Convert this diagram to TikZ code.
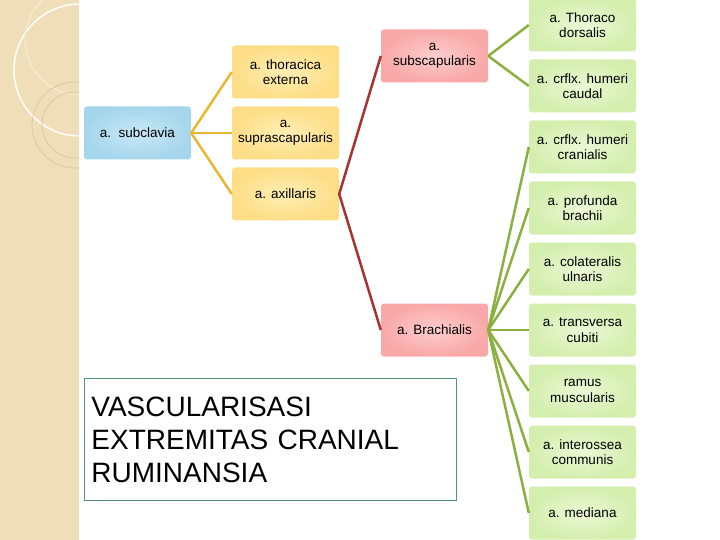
\documentclass[tikz,border=0pt]{standalone}
\usepackage{fontspec}
\setmainfont{Liberation Sans}
\definecolor{bIn}{RGB}{200,232,246}\definecolor{bOut}{RGB}{166,214,236}
\definecolor{yIn}{RGB}{255,238,180}\definecolor{yOut}{RGB}{253,222,135}
\definecolor{rIn}{RGB}{255,205,205}\definecolor{rOut}{RGB}{248,168,168}
\definecolor{gIn}{RGB}{236,248,214}\definecolor{gOut}{RGB}{212,238,174}
\definecolor{yL}{RGB}{232,184,48}\definecolor{rL}{RGB}{168,50,50}\definecolor{gL}{RGB}{140,176,64}
\definecolor{strip}{RGB}{240,222,184}\definecolor{circ}{RGB}{222,200,160}
\definecolor{tB}{RGB}{80,150,110}
\begin{document}
\begin{tikzpicture}[x=1pt,y=-1pt,
 box/.style={rounded corners=3pt,minimum width=107pt,minimum height=53pt,align=center,font=\fontsize{13.5}{15.5}\selectfont,inner sep=1pt},
 bbox/.style={box,inner color=bIn,outer color=bOut},
 ybox/.style={box,inner color=yIn,outer color=yOut},
 rbox/.style={box,inner color=rIn,outer color=rOut},
 gbox/.style={box,inner color=gIn,outer color=gOut},
 yl/.style={draw=yL,line width=2.5pt},
 rl/.style={draw=rL,line width=2.5pt},
 gl/.style={draw=gL,line width=2.5pt}]
\useasboundingbox (0,0) rectangle (720,540);
\fill[white] (0,0) rectangle (720,540);
\begin{scope}
\clip (0,0) rectangle (79,540);
\fill[strip] (0,0) rectangle (79,540);
\draw[white,line width=1.5pt] (80,70) circle (66);
\draw[white!50!strip,line width=0.8pt] (80,40) circle (55);
\draw[circ,line width=0.8pt] (75,125) circle (43);
\draw[circ,line width=0.8pt] (75,125) circle (33);
\end{scope}
\node[bbox] (sub) at (137.5,133) {a.\ \ subclavia};
\node[ybox] (tho) at (285.5,72) {a. thoracica\\externa};
\node[ybox] (sup) at (285.5,133) {a.\\suprascapularis};
\node[ybox] (axi) at (285.5,194) {a. axillaris};
\node[rbox] (scp) at (434.5,56) {a.\\subscapularis};
\node[rbox] (bra) at (434.5,330) {a. Brachialis};
\node[gbox] (g1) at (582.5,25) {a. Thoraco\\dorsalis};
\node[gbox] (g2) at (582.5,86) {a. crflx. humeri\\caudal};
\node[gbox] (g3) at (582.5,147) {a. crflx. humeri\\cranialis};
\node[gbox] (g4) at (582.5,208) {a. profunda\\brachii};
\node[gbox] (g5) at (582.5,269) {a. colateralis\\ulnaris};
\node[gbox] (g6) at (582.5,330) {a. transversa\\cubiti};
\node[gbox] (g7) at (582.5,391) {ramus\\muscularis};
\node[gbox] (g8) at (582.5,452) {a. interossea\\communis};
\node[gbox] (g9) at (582.5,513) {a. mediana};
\foreach \t in {tho,sup,axi} \draw[yl] (sub.east) -- (\t.west);
\draw[rl] (scp.west) -- (axi.east) -- (bra.west);
\foreach \t in {g1,g2} \draw[gl] (scp.east) -- (\t.west);
\foreach \t in {g3,g4,g5,g6,g7,g8,g9} \draw[gl] (bra.east) -- (\t.west);
\node[draw=tB,line width=0.8pt,minimum width=372pt,minimum height=122pt,align=left,anchor=north west,inner sep=6pt,font=\fontsize{28}{33}\selectfont,text width=358pt] (title) at (84,378) {VASCULARISASI\\EXTREMITAS CRANIAL\\RUMINANSIA};
\end{tikzpicture}
\end{document}
